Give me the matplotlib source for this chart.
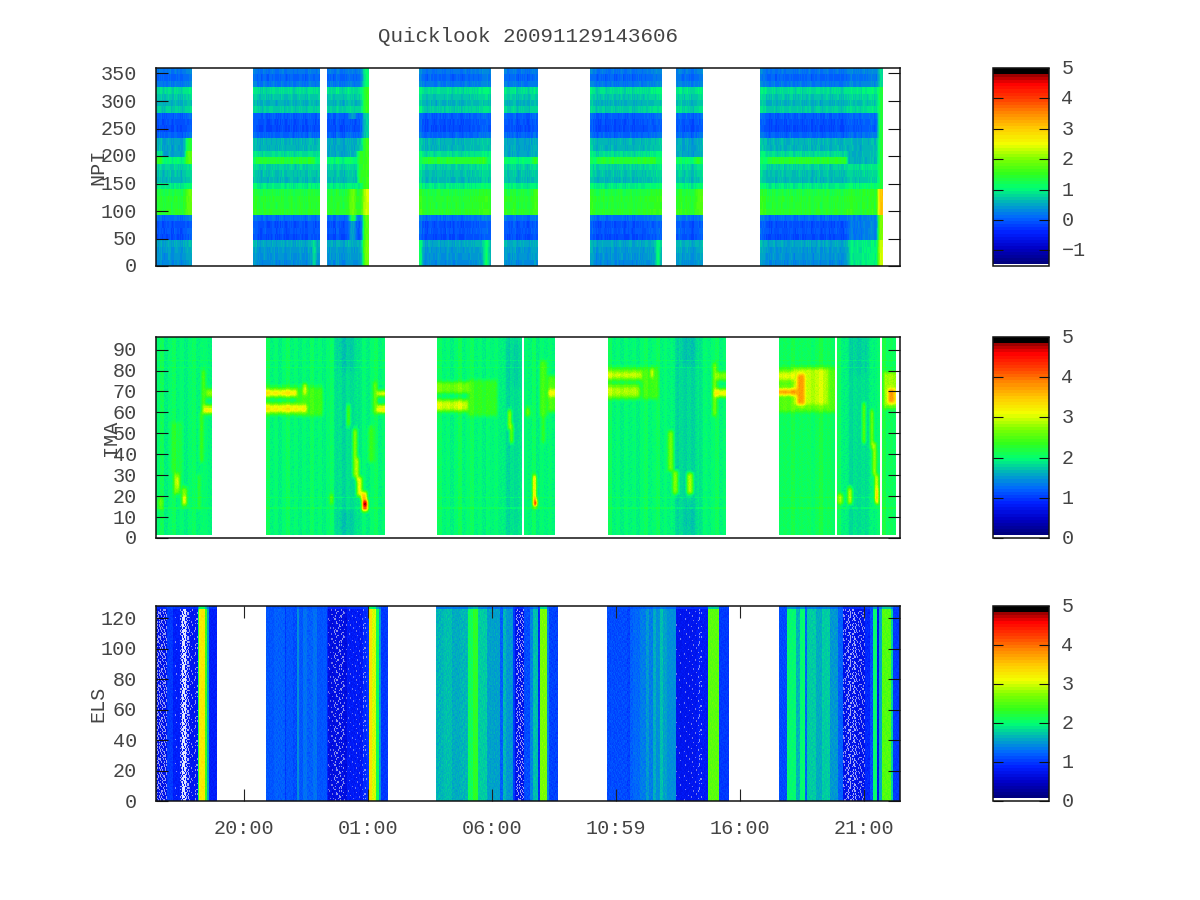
import numpy as np
import matplotlib
matplotlib.use('Agg')
import matplotlib.pyplot as plt
from matplotlib.colors import LinearSegmentedColormap
from matplotlib.transforms import ScaledTranslation

plt.rcParams['font.family'] = ['Liberation Mono', 'DejaVu Sans Mono']

# time base: sample index along the 30 h record
N_SAMPLES = 744
tick_samples = [88, 212, 336, 460, 584, 708]
tick_labels = ['20:00', '01:00', '06:00', '10:59', '16:00', '21:00']
title_text = 'Quicklook 20091129143606'

# ---------- NPI ----------
npi_segments = [(0, 36), (97, 164), (171, 213), (263, 335), (348, 382), (434, 506), (520, 547), (604, 727)]
# mean level of the 31 direction rows, top row first
npi_rows = [0.18, 0.05, 0.18, 0.85, 0.7, 0.58, 0.75, 0.0, -0.08, -0.12, 0.05,
            0.62, 0.6, 0.85, 1.05, 0.78, 0.68, 0.62, 0.95,
            1.32, 1.4, 1.38, 1.45, 0.12, -0.08, -0.04, -0.12, 0.52, 0.42, 0.38, 0.32]
npi_col_offsets = [
    [0.0, 0.05, -0.05, 0.0, 0.05, -0.05, 0.05, 0.0, -0.05, 0.05, 0.1, 0.15],
    [0.1, 0.0, -0.05, 0.05, -0.05, 0.0, 0.05, -0.05, 0.0, 0.05, -0.05, 0.0, 0.05, -0.05, 0.0, 0.05, 0.0, -0.05, 0.1, 0.05, 0.0, 0.05],
    [0.0, 0.05, -0.05, 0.1, 0.0, -0.05, 0.05, 0.1, 0.05, 0.0, 0.05, 0.15, 0.2, 0.3],
    [0.2, 0.05, -0.05, 0.05, 0.0, -0.05, 0.05, 0.0, -0.05, 0.05, 0.0, -0.05, 0.05, 0.0, -0.05, 0.05, 0.0, 0.05, 0.05, 0.05, 0.1, 0.15, 0.15, 0.1],
    [0.1, 0.0, 0.05, 0.1, -0.05, 0.0, 0.05, 0.0, -0.05, 0.05, 0.1, 0.05],
    [0.15, 0.05, -0.05, 0.0, 0.05, -0.05, 0.0, 0.05, -0.05, 0.0, 0.05, -0.05, 0.0, 0.05, -0.05, 0.0, 0.05, 0.0, 0.05, 0.05, 0.1, 0.1, 0.15, 0.15],
    [0.1, 0.15, 0.0, 0.1, 0.05, -0.05, 0.05, 0.1, 0.15],
    [0.15, 0.1, 0.0, -0.05, 0.05, -0.05, 0.0, 0.05, -0.05, 0.0, 0.05, -0.05, 0.0, 0.05, -0.05, 0.0, 0.05, -0.05, 0.0, 0.05, -0.05, 0.0, 0.05, -0.05, 0.0, 0.05, 0.0, -0.05, 0.05, 0.1, 0.15, 0.05, 0.1, 0.05, 0.15, 0.1, 0.15, 0.2, 0.1, 0.15, 0.25],
]
# (first sample, last sample, first row, last row, level)
npi_patches = [
    (30, 36, 11, 13, 1.25), (30, 36, 13, 15, 1.65), (7, 29, 11, 14, 0.48), (0, 7, 14, 15, 1.45), (30, 36, 19, 23, 1.7),
    (100, 159, 14, 15, 1.4), (97, 164, 11, 13, 0.6), (157, 160, 27, 31, 0.95),
    (207, 214, 0, 3, 0.8), (207, 214, 3, 7, 1.25), (207, 214, 7, 11, 0.5), (207, 214, 11, 19, 1.3),
    (207, 214, 19, 23, 2.1), (207, 214, 23, 27, 1.5), (207, 214, 27, 31, 1.65),
    (194, 200, 23, 24, 1.3), (194, 200, 24, 27, 0.45), (194, 200, 19, 23, 1.85), (194, 200, 7, 8, 0.45),
    (171, 200, 11, 14, 0.5), (202, 207, 13, 18, 1.35),
    (267, 330, 14, 15, 1.4), (263, 335, 11, 13, 0.6), (328, 333, 27, 31, 1.0), (263, 266, 27, 31, 0.95),
    (348, 382, 11, 14, 0.48), (376, 382, 14, 15, 1.35), (378, 382, 19, 23, 1.6),
    (440, 500, 14, 15, 1.4), (434, 506, 11, 13, 0.6), (500, 504, 27, 31, 0.95),
    (520, 547, 11, 14, 0.45), (539, 545, 14, 15, 1.4), (539, 547, 19, 23, 1.6),
    (612, 691, 14, 15, 1.45), (604, 691, 11, 13, 0.6),
    (691, 722, 11, 15, 0.48), (693, 722, 23, 27, 0.12), (693, 722, 27, 31, 0.85), (700, 722, 19, 23, 1.32),
    (722, 727, 0, 3, 0.6), (722, 727, 3, 19, 1.1), (722, 727, 19, 23, 2.8), (722, 727, 23, 27, 1.75), (722, 727, 27, 31, 2.1),
]

# ---------- IMA ----------
ima_segments = [(0, 56), (110, 229), (281, 366), (368, 399), (452, 570), (623, 679), (681, 724), (726, 740)]
ima_base = [1.95, 1.95, 1.95, 1.95, 1.95, 2.05, 1.95, 2.05]
ima_col_offsets = [
    [0.05, 0.16, -0.03, 0.05, 0.14, 0.0, 0.05, -0.03, 0.05, 0.12, 0.0, 0.05, 0.05, 0.0],
    [0.14, 0.0, 0.05, -0.03, 0.05, 0.14, 0.0, 0.05, -0.03, 0.05, 0.0, 0.12, 0.0, 0.05, -0.03, 0.05, 0.14, 0.0, 0.05, -0.03, 0.05, 0.0, 0.05, 0.0, 0.05, -0.03, 0.05, 0.14, 0.0, 0.05],
    [0.12, 0.0, 0.05, -0.03, 0.05, 0.16, 0.0, 0.05, 0.14, 0.0, 0.05, -0.03, 0.05, 0.0, 0.05, 0.0, 0.05, -0.03, 0.05, 0.0, 0.05],
    [0.05, 0.0, 0.12, -0.03, 0.05, 0.0, 0.05, 0.0],
    [0.14, 0.0, 0.05, -0.03, 0.05, 0.0, 0.05, -0.03, 0.05, 0.14, 0.0, 0.05, 0.14, 0.0, 0.05, 0.0, 0.05, -0.03, 0.05, 0.0, 0.05, 0.0, 0.05, -0.03, 0.05, 0.0, 0.05, 0.14, 0.0, 0.05],
    [0.0, 0.05, 0.0, 0.12, 0.0, 0.05, 0.0, 0.05, -0.03, 0.05, 0.14, 0.0, 0.05, 0.0],
    [0.12, 0.0, 0.05, -0.03, 0.05, 0.0, 0.05, 0.0, 0.05, 0.0, 0.05],
    [0.14, 0.0, 0.05, 0.0],
]
# (first sample, last sample, low bin, high bin, level)
ima_dim = [(178, 204, 2, 96, 1.82), (347, 366, 2, 96, 1.82), (519, 543, 2, 96, 1.78), (691, 714, 2, 96, 1.82),
           (182, 198, 80, 96, 1.72), (182, 198, 2, 14, 1.72), (352, 366, 72, 92, 1.76), (526, 540, 82, 96, 1.68),
           (528, 540, 2, 16, 1.7), (695, 712, 78, 96, 1.75)]
ima_patches = [
    (46, 49, 61, 80, 2.5), (46, 56, 59, 63, 2.8), (48, 56, 60, 62, 3.3), (50, 56, 67, 71, 2.75), (44, 47, 36, 60, 2.4),
    (15, 26, 31, 55, 2.15), (18, 24, 21, 31, 2.65), (20, 23, 24, 29, 3.1), (26, 31, 15, 24, 2.75), (27, 30, 16, 20, 3.2),
    (2, 7, 14, 19, 2.45), (42, 44, 14, 30, 2.45),
    (110, 141, 66.5, 72, 2.45), (110, 141, 67.7, 70.6, 3.2), (110, 151, 58.5, 64.5, 2.45), (110, 151, 60, 63, 3.2),
    (141, 167, 58, 72, 2.35), (147, 151, 68, 73, 3.0),
    (197, 201, 29, 52, 2.7), (200, 203, 27, 38, 2.9), (201, 206, 20, 29, 3.1), (205, 211, 18, 22, 3.4),
    (206, 212, 13, 18, 3.7), (207, 211, 14.6, 17.5, 4.9),
    (191, 194, 53, 63, 2.45), (212, 218, 36, 53, 2.3), (221, 229, 59.5, 63, 3.2), (221, 229, 67.5, 70, 3.1), (217, 221, 59, 74, 2.45),
    (174, 177, 16, 21, 2.45),
    (281, 314, 69, 74, 2.6), (281, 312, 60, 66, 2.5), (281, 312, 61, 65, 2.95), (312, 341, 58, 75, 2.3),
    (352, 355, 52, 61, 2.95), (354, 357, 45, 54, 2.6),
    (377, 380, 15, 30, 3.4), (378, 381, 15, 19, 3.9), (378, 381, 15, 17, 4.7), (370, 374, 58, 62, 2.6),
    (384, 391, 58, 84, 2.4), (386, 389, 45, 60, 2.35), (392, 399, 67, 71, 3.1), (392, 399, 60, 77, 2.45),
    (452, 486, 74.5, 81, 2.5), (452, 486, 76, 79, 2.95), (452, 484, 66, 73, 2.5), (452, 484, 67.5, 72, 2.85),
    (486, 502, 66, 81, 2.35), (495, 497, 76, 81, 3.3),
    (512, 517, 32, 51, 2.65), (517, 522, 21, 32, 2.75), (531, 537, 21, 31, 2.8),
    (557, 570, 67, 71, 3.1), (557, 570, 75, 79, 2.65), (557, 560, 58, 83, 2.7),
    (623, 679, 60, 81, 2.5), (638, 672, 63, 81, 2.9), (623, 638, 75, 79, 3.0), (623, 642, 68, 71, 3.7), (641, 649, 63, 78, 3.7),
    (707, 709, 45, 64, 2.85), (715, 717, 43, 61, 3.0), (717, 720, 30, 45, 3.0), (719, 722, 17, 30, 3.2), (720, 722, 16, 24, 3.9),
    (682, 687, 16, 21, 2.75), (692, 696, 16, 24, 3.0),
    (728, 740, 62, 79, 2.8), (732, 739, 64, 71, 3.7),
]
ima_bright_bins = [14, 19, 81, 84]

# ---------- ELS ----------
els_edges = [0, 11, 17, 24, 30, 42, 43, 49, 51, 53, 61, 110, 118, 129, 130, 137, 141, 143, 147, 151, 157, 161, 171, 172, 191, 207, 211, 213, 216, 220, 223, 225, 232, 280,
             288, 296, 304, 312, 317, 322, 331, 344, 347, 350, 357, 359, 368, 374, 377, 382, 384, 391, 393, 402, 451,
             471, 474, 477, 484, 490, 493, 497, 500, 504, 507, 511, 520, 541, 552, 563, 573, 623, 631, 640, 644, 649, 651, 660, 666, 674, 682, 687, 709, 714, 717, 721, 723, 726, 735, 737, 744]
els_values = [0.7, 1.0, 0.85, 0.75, 0.75, 2.1, 3.25, 2.4, 1.6, 0.85, np.nan, 1.15, 1.2, 1.0, 1.15, 1.1, 1.45, 1.15, 1.3, 1.2, 1.3, 1.15, 0.9, 0.65, 0.8, 0.9, 1.0, 3.3, 3.0, 2.1, 1.5, 1.0, np.nan,
              1.65, 1.7, 1.6, 1.65, 2.1, 2.3, 1.75, 1.55, 1.2, 1.65, 1.5, 1.0, 0.7, 1.1, 1.4, 1.7, 0.9, 2.7, 1.4, 1.05, np.nan,
              1.1, 1.05, 1.2, 1.25, 1.35, 1.5, 1.35, 1.6, 1.45, 1.7, 1.55, 1.45, 0.75, 0.8, 2.55, 1.0, np.nan, 1.1, 2.0, 1.65, 2.0, 1.2, 1.75, 1.6, 1.75, 1.5, 1.2, 0.7, 0.9, 1.1, 2.0, 0.75, 1.6, 2.5, 1.8, 1.0]
els_top_level = 1.1
els_top_bins = 2
# under-range cells per stretch of time, estimated by eye: (first, last, share, opacity)
els_white_share = [(0, 11, 0.30, 0.6), (17, 24, 0.03, 0.5), (24, 26, 0.35, 0.7), (26, 30, 0.72, 0.9), (30, 33, 0.4, 0.7), (33, 42, 0.1, 0.55),
                   (172, 178, 0.07, 0.45), (178, 188, 0.2, 0.55), (188, 191, 0.08, 0.45), (191, 207, 0.02, 0.4), (207, 211, 0.12, 0.5),
                   (359, 368, 0.28, 0.6), (520, 541, 0.04, 0.45), (541, 546, 0.1, 0.5), (687, 692, 0.18, 0.55), (692, 700, 0.35, 0.65), (700, 709, 0.2, 0.55)]
# hand-typed halftone used only to place those cells and the fine grain;
# the placement is a rendering device, only the shares above come from the picture
halftone = ['kqbxemtagvzdoiuhrcnwfjpl', 'tdjvasgznkcowfxiqmeblhur', 'bmyhqfxkurdjaetnvgszcopw', 'xgoczlteiwpbhumrdfkyaqjn',
            'eunjdrbvoamxsgczlhtkwifp', 'qazfkhwpyctlijnbexrudogm', 'mlsuxgdneiqvzkwahpcojtbr', 'cwibotjramfuedgyslqnxkhv',
            'yfhpvnkclszgbtoxjwmadueq', 'jretmaxudohwnqfcibzvkgls', 'ogkzbqiwyjeaslumptrxhcdn', 'wnadfulhpbkrvgicyeojsmqt',
            'hscrjxeomtzdqnwkabfupvgi', 'uvqkgymbacjftxlsohdienrz', 'adtlonfsrhuiepmzgjwcbyxk', 'pxeiwcqjgvnykdatrmubolfs']


def time_slices(segment, values):
    a, b = segment
    idx = np.minimum(((np.arange(a, b) - a) * len(values)) // (b - a), len(values) - 1)
    return np.arange(a, b), np.asarray(values)[idx]


def smooth(mat, kernel, axis):
    """NaN-aware running mean, so that the gaps stay clean."""
    k = np.asarray(kernel, float)
    good = ~np.isnan(mat)
    f = lambda m: np.apply_along_axis(lambda v: np.convolve(v, k, mode='same'), axis, m)
    num, den = f(np.where(good, mat, 0.0)), f(good.astype(float))
    out = np.where(den > 0, num / np.maximum(den, 1e-9), np.nan)
    out[~good] = np.nan
    return out


ht = np.array([[ord(c) - 97 for c in row] for row in halftone], float)
ht = (ht + 0.5) / 26.0


def halftone_grid(rows, cols):
    out = np.zeros((rows, cols))
    for c in range(cols):
        shift = 5 * (c // ht.shape[1])
        out[:, c] = ht[(np.arange(rows) + shift) % ht.shape[0], c % ht.shape[1]]
    return out


# build matrices -----------------------------------------------------
npi_rows_arr = np.array(npi_rows)
npi = np.full((31, N_SAMPLES), np.nan)
for seg in npi_segments:
    npi[:, seg[0]:seg[1]] = npi_rows_arr[:, None]
seg_mask = ~np.isnan(npi)
for a, b, r0, r1, v in npi_patches:
    npi[r0:r1, a:b] = v
npi[~seg_mask] = np.nan
npi = smooth(npi, [1, 2, 3, 2, 1], 1)
for seg, off in zip(npi_segments, npi_col_offsets):
    cols, o = time_slices(seg, off)
    npi[:, cols] += o
npi += (halftone_grid(31, N_SAMPLES) - 0.5) * 0.14

ima = np.full((192, N_SAMPLES), np.nan)   # half-bin resolution, bin 0 at the bottom
for seg, base in zip(ima_segments, ima_base):
    ima[3:, seg[0]:seg[1]] = base
ima_valid = ~np.isnan(ima)
for a, b, lo, hi, v in ima_dim:
    ima[int(lo * 2):int(hi * 2), a:b] = v
ima[~ima_valid] = np.nan
ima = smooth(ima, np.ones(9), 1)
ima = smooth(ima, np.ones(9), 0)
for a, b, lo, hi, v in ima_patches:
    block = ima[int(lo * 2):int(hi * 2), a:b]
    block[block < v] = v
ima[~ima_valid] = np.nan
ima = smooth(ima, [1, 2, 3, 2, 1], 1)
ima = smooth(ima, [1, 2, 3, 4, 3, 2, 1], 0)
for seg, off in zip(ima_segments, ima_col_offsets):
    cols, o = time_slices(seg, off)
    ima[:, cols] += o
for b0 in ima_bright_bins:
    ima[b0 * 2:b0 * 2 + 1, :] += 0.1
ima += (halftone_grid(192, N_SAMPLES) - 0.5) * 0.1

els_col = np.full(N_SAMPLES, np.nan)
for i, v in enumerate(els_values):
    els_col[els_edges[i]:els_edges[i + 1]] = v
els = np.tile(els_col, (128, 1))
els_ht = halftone_grid(128, N_SAMPLES)
els += (els_ht - 0.5) * 0.14
els[-els_top_bins:, :] = 0.45 * els[-els_top_bins:, :] + 0.55 * els_top_level
els_white = np.zeros((128, N_SAMPLES, 4))
els_white[..., :3] = 1.0
for a, b, share, opacity in els_white_share:
    block = els_white[:-els_top_bins, a:b, 3]
    block[els_ht[:-els_top_bins, a:b] < share] = opacity

# colour scale --------------------------------------------------------
cmap_positions = [0, 0.078, 0.155, 0.232, 0.309, 0.386, 0.462, 0.539, 0.616, 0.693, 0.77, 0.847, 0.923, 0.982, 0.9821, 1]
cmap_colors = [(0, 0, .5), (0, 0, .78), (0, .12, 1), (0, .4, 1), (0, .68, .75), (0, 1, .45), (.2, 1, .1), (.5, 1, 0),
               (.95, 1, 0), (1, .8, 0), (1, .55, 0), (1, .25, 0), (1, 0, 0), (.5, 0, 0), (0, 0, 0), (0, 0, 0)]
cmap = LinearSegmentedColormap.from_list('ql', list(zip(cmap_positions, cmap_colors)), N=64)
cmap.set_bad('white')

W, H = 1200, 900
fig = plt.figure(figsize=(12, 9), dpi=100, facecolor='white')
TXT = '#444444'
FS = 14.5


def axes_px(x0, y0, x1, y1):
    return fig.add_axes([x0 / W, 1 - y1 / H, (x1 - x0) / W, (y1 - y0) / H])


def nudge(ax, dy_px):
    for lab in ax.get_yticklabels():
        lab.set_transform(lab.get_transform() + ScaledTranslation(0, dy_px / 100, fig.dpi_scale_trans))


panels = [
    ('NPI', npi, (68, 266), (0, 360), np.arange(0, 351, 50), -1.45, -1.51, 98, (993, 1049), [-1, 0, 1, 2, 3, 4, 5], (0, 360)),
    ('IMA', ima, (337, 538), (0, 96), np.arange(0, 91, 10), 0.07, 0, 111, (993, 1049), [0, 1, 2, 3, 4, 5], (0, 96)),
    ('ELS', els, (606, 801), (0, 128), np.arange(0, 121, 20), 0.07, 0, 98, (993, 1049), [0, 1, 2, 3, 4, 5], (0, 128)),
]
for k, (name, mat, (y0, y1), ylim, yt, vmin, cbot, lx, (cx0, cx1), cticks, ext) in enumerate(panels):
    ax = axes_px(156, y0, 900, y1)
    im = ax.imshow(np.ma.masked_invalid(mat), origin='lower' if name != 'NPI' else 'upper', aspect='auto',
                   extent=(0, N_SAMPLES, ext[0], ext[1]), cmap=cmap, vmin=vmin, vmax=5, interpolation='nearest')
    if name == 'ELS':
        ax.imshow(els_white, origin='lower', aspect='auto', extent=(0, N_SAMPLES, ext[0], ext[1]), interpolation='nearest')
    ax.set_xlim(0, N_SAMPLES)
    ax.set_ylim(*ylim)
    ax.set_yticks(yt)
    ax.tick_params(axis='y', direction='in', length=8.5, width=0.8, left=True, right=True,
                   labelsize=FS, labelcolor=TXT, color='#111111', pad=13.5)
    if name == 'ELS':
        ax.set_xticks(tick_samples)
        ax.set_xticklabels(tick_labels)
        ax.tick_params(axis='x', direction='in', length=8.5, width=0.8, top=True, bottom=True,
                       labelsize=FS, labelcolor=TXT, color='#222222', pad=13)
    else:
        ax.set_xticks([])
    nudge(ax, 1)
    for s in ax.spines.values():
        s.set_linewidth(1.1)
        s.set_color('#111111')
    fig.text(lx / W, 1 - (y0 + y1) / 2 / H, name, rotation=90, ha='center', va='center',
             fontsize=FS, color=TXT)

    cax = axes_px(cx0, y0, cx1, y1)
    cb = fig.colorbar(im, cax=cax)
    cb.set_ticks(cticks)
    cb.set_ticklabels([str(c).replace('-', '\u2212') for c in cticks])
    cax.set_ylim(cbot, 5)
    cax.tick_params(axis='y', direction='in', length=7, width=0.8, left=True, right=True,
                    labelsize=FS, labelcolor=TXT, color='#111111', pad=9)
    nudge(cax, 1.5)
    cb.outline.set_linewidth(1.1)
    cb.outline.set_edgecolor('#111111')

fig.text(528 / W, 1 - 37 / H, title_text, ha='center', va='center', fontsize=15.0, color=TXT)
fig.savefig('out.png', dpi=100, facecolor='white')
